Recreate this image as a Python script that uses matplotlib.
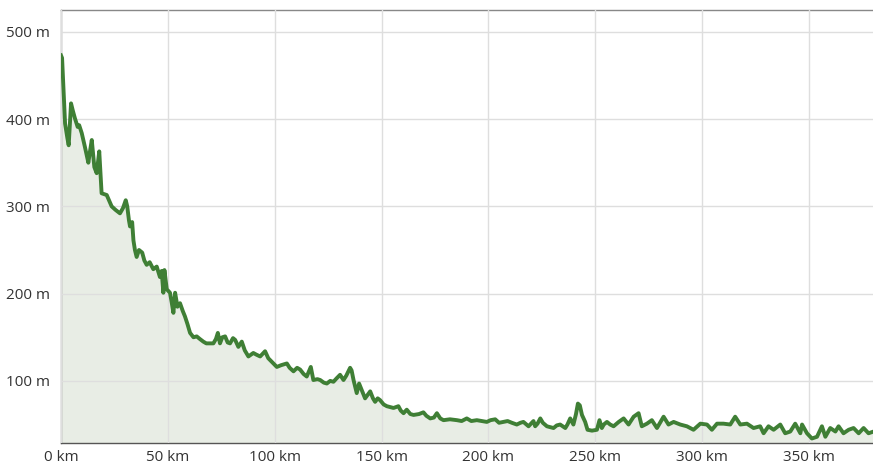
import matplotlib
matplotlib.use("Agg")
import matplotlib.pyplot as plt
import numpy as np

# distance (km) and elevation (m)
KM = [
    0, 0.5, 1.9, 3.0, 3.6, 4.7, 5.5, 6.5, 7.8, 8.5, 9.7, 11.2, 12.8, 13.5, 14.4,
    15.6, 16.7, 17.9, 19.0, 21.4, 23.7, 25.5, 27.6, 29.0, 30.3, 31.0, 31.8, 32.3,
    33.3, 33.9, 34.6, 35.4, 36.5, 38.0, 39.0, 40.1, 41.5, 43.2, 44.8, 46.3, 47.1,
    47.9, 48.4, 49.5, 51.0, 51.8, 52.6, 53.4, 54.5, 55.7, 57.0, 58.0, 59.2, 60.4,
    62.0, 63.5, 65.0, 66.6, 68.0, 69.8, 71.3, 72.5, 73.4, 74.4, 75.5, 76.8, 78.0,
    79.1, 80.5, 81.5, 83.0, 84.6, 86.0, 87.7, 90.0, 91.5, 93.2, 95.5, 97.0, 98.6,
    101.0, 103.0, 105.7, 107.0, 108.8, 110.5, 111.9, 113.5, 115.0, 116.9, 118.1,
    120.0, 121.3, 123.0, 124.4, 126.0, 127.5, 129.0, 130.6, 132.2, 133.5, 135.3,
    136.0, 136.9, 138.4, 139.5, 141.0, 142.3, 143.5, 144.7, 146.0, 147.0, 148.2,
    149.3, 151.0, 152.5, 154.0, 155.6, 157.9, 159.0, 160.3, 161.8, 163.5, 165.0,
    167.5, 169.6, 171.0, 172.8, 174.5, 175.9, 177.5, 179.0, 182.0, 185.3, 187.5,
    189.9, 192.0, 194.6, 197.0, 199.3, 201.0, 203.2, 205.0, 207.0, 209.0, 211.0,
    213.3, 215.0, 216.4, 218.8, 221.1, 221.9, 223.0, 224.3, 225.5, 227.4, 229.0,
    230.5, 232.0, 233.6, 236.0, 237.0, 238.3, 239.8, 241.0, 241.9, 242.8, 243.8,
    245.3, 246.4, 248.5, 250.8, 252.0, 253.1, 254.0, 255.5, 257.0, 258.6, 261.0,
    263.3, 265.6, 268.0, 270.3, 271.8, 274.2, 276.5, 278.9, 282.0, 284.3, 286.7,
    289.8, 292.9, 296.0, 299.2, 302.3, 304.6, 307.0, 310.0, 313.2, 315.5, 317.9,
    321.0, 324.1, 327.2, 328.8, 331.1, 333.5, 336.6, 338.9, 341.3, 343.6, 346.0,
    346.8, 349.1, 351.4, 353.8, 356.1, 357.7, 360.0, 362.4, 363.9, 366.2, 368.6,
    370.9, 373.3, 375.6, 377.9, 380.3,
]
ELEV = [
    473, 470, 395, 378, 370, 418, 410, 401, 391, 393, 384, 368, 350, 362, 376,
    345, 338, 363, 315, 313, 300, 296, 292, 298, 307, 300, 284, 277,
    282, 261, 250, 242, 250, 247, 238, 233, 236, 228, 231, 219, 226,
    201, 227, 205, 201, 190, 178, 201, 185, 189, 180, 174, 165, 155,
    150, 151, 148, 145, 143, 143, 143, 148, 155, 143, 150, 151, 144,
    143, 149, 147, 139, 145, 135, 128, 132, 130, 128, 134, 126, 122,
    116, 118, 120, 115, 111, 115, 113, 108, 105, 116, 101,
    102, 101, 98, 97, 100, 99, 103, 107, 101, 106, 115,
    112, 101, 86, 97, 88, 80, 84, 88, 80, 76, 80,
    78, 73, 71, 70, 69, 71, 66, 63, 67, 62, 61,
    62, 64, 60, 57, 58, 63, 57, 55, 56, 55, 54,
    57, 54, 55, 54, 53, 55, 56, 52, 53, 54, 52,
    50, 52, 53, 48, 54, 48, 51, 57, 52, 48, 47,
    46, 49, 50, 46, 50, 57, 50, 62, 74, 72, 61,
    53, 44, 43, 44, 55, 46, 50, 53, 50, 48, 53,
    57, 50, 59, 63, 48, 51, 55, 46, 59, 50, 53,
    50, 48, 44, 51, 50, 44, 51, 51, 50, 59, 50,
    51, 46, 48, 40, 48, 44, 50, 40, 42, 51, 40,
    50, 40, 34, 36, 48, 36, 46, 42, 48, 40, 44,
    46, 40, 46, 40, 42,
]

X_TICKS = [0, 50, 100, 150, 200, 250, 300, 350]
Y_TICKS = [100, 200, 300, 400, 500]

LINE_COLOR = "#3f7f35"
FILL_COLOR = "#e8ede5"
TEXT_COLOR = "#333333"

plt.rcParams["font.family"] = ["Open Sans", "DejaVu Sans"]

fig = plt.figure(figsize=(8.73, 4.71), dpi=100)
ax = fig.add_axes([61 / 873, 1 - 443.3 / 471, 1 - 61 / 873, (443.3 - 10) / 471])

ax.fill_between(KM, ELEV, 0, color=FILL_COLOR, linewidth=0, zorder=1)
ax.plot(KM, ELEV, color=LINE_COLOR, linewidth=2.8, solid_joinstyle="round", zorder=3)

ax.set_xlim(0, 380)
ax.set_ylim(28.5, 525)
ax.set_xticks(X_TICKS)
ax.set_xticklabels([f"{v} km" for v in X_TICKS])
ax.set_yticks(Y_TICKS)
ax.set_yticklabels([f"{v} m" for v in Y_TICKS])
ax.tick_params(length=0, labelsize=11, labelcolor=TEXT_COLOR)
ax.tick_params(axis="y", pad=8)
ax.tick_params(axis="x", pad=5)
ax.grid(color="#dedede", linewidth=1.0, zorder=2)
ax.set_axisbelow(False)

for side in ("left", "top", "bottom"):
    ax.spines[side].set_color("#888888")
    ax.spines[side].set_linewidth(1.0)
ax.spines["bottom"].set_color("#555555")
ax.spines["right"].set_visible(False)

fig.savefig("out.png", dpi=100)
